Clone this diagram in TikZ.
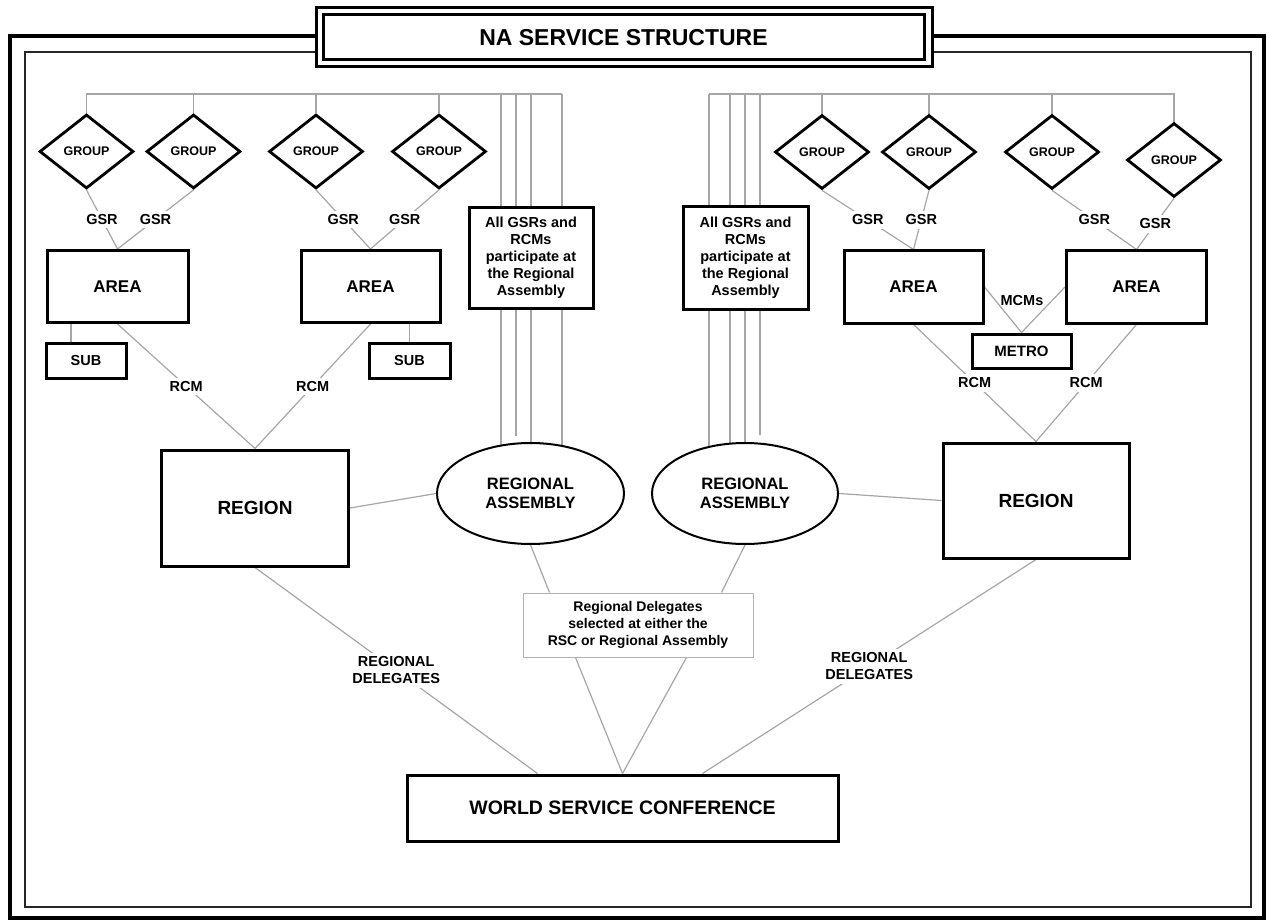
\documentclass[tikz,border=0pt]{standalone}
\usepackage{fontspec}
\setmainfont{Liberation Sans}
\usetikzlibrary{shapes.geometric,backgrounds,calc}
\begin{document}
\begin{tikzpicture}[x=1pt,y=-1pt,
  conn/.style={draw=black!35,line width=1.2pt},
  bx/.style={draw=black,line width=3pt,fill=white,inner sep=0pt,align=center},
  areabox/.style={bx,minimum width=140pt,minimum height=72pt,font=\bfseries\fontsize{17}{20}\selectfont},
  subbox/.style={bx,minimum width=80pt,minimum height=35pt,font=\bfseries\fontsize{14.5}{17}\selectfont},
  regbox/.style={bx,minimum width=187pt,minimum height=116pt,font=\bfseries\fontsize{19}{22}\selectfont},
  gsrbox/.style={bx,minimum width=124pt,minimum height=101pt,font=\bfseries\fontsize{14.5}{17}\selectfont},
  grp/.style={diamond,draw=black,line width=2.8pt,fill=white,minimum width=94pt,minimum height=74pt,inner sep=0pt,aspect=1.27,font=\bfseries\fontsize{12.5}{14}\selectfont},
  assembly/.style={ellipse,draw=black,line width=2pt,fill=white,minimum width=187pt,minimum height=101pt,inner sep=0pt,align=center,font=\bfseries\fontsize{16.5}{19}\selectfont},
  lbl/.style={fill=white,inner sep=3.5pt,align=center,font=\bfseries\fontsize{14.5}{17}\selectfont},
  delbox/.style={draw=black!30,line width=1pt,fill=white,minimum width=230pt,minimum height=64pt,inner sep=0pt,align=center,font=\bfseries\fontsize{14}{17}\selectfont}
  ]
\useasboundingbox (0,0) rectangle (1267,920);
% frame
\draw[line width=4pt] (10,36) rectangle (1264,918);
\draw[line width=2.5pt,black!85] (25,52) rectangle (1251,907);
% title
\draw[line width=3pt,fill=white] (316,8) rectangle (932,67);
\node[draw=black,line width=3pt,minimum width=601pt,minimum height=45pt,inner sep=0pt,font=\bfseries\fontsize{23}{26}\selectfont] (title) at (623.5,37.5) {NA SERVICE STRUCTURE};

% groups left
\node[grp] (d1) at (86.5,151.5) {GROUP};
\node[grp] (d2) at (193.5,151.5) {GROUP};
\node[grp] (d3) at (316,151.5) {GROUP};
\node[grp] (d4) at (439,151.5) {GROUP};
% groups right
\node[grp] (r1) at (822,152) {GROUP};
\node[grp] (r2) at (929,152) {GROUP};
\node[grp] (r3) at (1052,152) {GROUP};
\node[grp] (r4) at (1174,160) {GROUP};

% areas
\node[areabox,minimum width=141pt] (a1) at (117.5,286.5) {AREA};
\node[areabox,minimum width=139pt] (a2) at (370.5,286.5) {AREA};
\node[areabox,minimum width=139pt] (a3) at (913.5,287) {AREA};
\node[areabox,minimum width=140pt] (a4) at (1136.5,287) {AREA};

% subs and metro
\node[subbox] (s1) at (86,360.5) {SUB};
\node[subbox,minimum width=81pt] (s2) at (409.5,360.5) {SUB};
\node[subbox,minimum width=99pt,minimum height=34pt,font=\bfseries\fontsize{15}{17}\selectfont] (metro) at (1021.5,351) {METRO};
\node[lbl,fill=none] (mcm) at (1022,301) {MCMs};

% GSR boxes
\node[gsrbox] (gL) at (531,258) {All GSRs and\\RCMs\\participate at\\the Regional\\Assembly};
\node[gsrbox,minimum width=125pt,minimum height=102pt] (gR) at (745.5,258) {All GSRs and\\RCMs\\participate at\\the Regional\\Assembly};

% regions
\node[regbox] (rL) at (255,508) {REGION};
\node[regbox,minimum width=186pt,minimum height=115pt] (rR) at (1036,500.5) {REGION};

% assemblies
\node[assembly] (raL) at (530.5,493.5) {REGIONAL\\ASSEMBLY};
\node[assembly,minimum width=186pt] (raR) at (745,493.5) {REGIONAL\\ASSEMBLY};

% delegates box
\node[delbox] (del) at (638,625) {Regional Delegates\\selected at either the\\RSC or Regional Assembly};

% WSC
\node[bx,minimum width=431pt,minimum height=66pt,font=\bfseries\fontsize{19.5}{22}\selectfont] (wsc) at (622.5,808) {WORLD SERVICE CONFERENCE};

% bus coordinates
\coordinate (tl1) at (501,94);
\coordinate (tl2) at (516,94);
\coordinate (tl3) at (531,94);
\coordinate (tl4) at (562,94);
\coordinate (el2) at (516,436);
\coordinate (tr1) at (709,94);
\coordinate (tr2) at (730,94);
\coordinate (tr3) at (745,94);
\coordinate (tr4) at (760,94);
\coordinate (er4) at (760,435);

\begin{scope}[on background layer]
% left bus
\draw[conn] (d1.north) |- (tl4);
\draw[conn] (d2.north) -- (d2.north |- tl4);
\draw[conn] (d3.north) -- (d3.north |- tl4);
\draw[conn] (d4.north) -- (d4.north |- tl4);
\draw[conn] (tl1) -- (tl1 |- raL.center);
\draw[conn] (tl2) -- (el2);
\draw[conn] (tl3) -- (tl3 |- raL.center);
\draw[conn] (tl4) -- (tl4 |- raL.center);
% right bus
\draw[conn] (tr1) -| (r4.north);
\draw[conn] (r1.north) -- (r1.north |- tr1);
\draw[conn] (r2.north) -- (r2.north |- tr1);
\draw[conn] (r3.north) -- (r3.north |- tr1);
\draw[conn] (tr1) -- (tr1 |- raR.center);
\draw[conn] (tr2) -- (tr2 |- raR.center);
\draw[conn] (tr3) -- (tr3 |- raR.center);
\draw[conn] (tr4) -- (er4);
% GSR links
\draw[conn] (d1.south) -- node[lbl]{GSR} (a1.north);
\draw[conn] (d2.south) -- node[lbl]{GSR} (a1.north);
\draw[conn] (d3.south) -- node[lbl]{GSR} (a2.north);
\draw[conn] (d4.south) -- node[lbl]{GSR} (a2.north);
\draw[conn] (r1.south) -- node[lbl]{GSR} (a3.north);
\draw[conn] (r2.south) -- node[lbl]{GSR} (a3.north);
\draw[conn] (r3.south) -- node[lbl]{GSR} (a4.north);
\draw[conn] (r4.south) -- node[lbl]{GSR} (a4.north);
% subs
\draw[conn] ([xshift=-15pt]s1.north) -- ([xshift=-15pt]s1.north |- a1.south);
\draw[conn] (s2.north) -- (s2.north |- a2.south);
% MCMs
\draw[conn] (a3.east) -- (metro.north);
\draw[conn] (a4.west) -- (metro.north);
% RCM links
\draw[conn] (a1.south) -- node[lbl]{RCM} (rL.north);
\draw[conn] (a2.south) -- node[lbl]{RCM} (rL.north);
\draw[conn] (a3.south) -- node[lbl]{RCM} (rR.north);
\draw[conn] (a4.south) -- node[lbl]{RCM} (rR.north);
% region - assembly
\draw[conn] (rL.east) -- (raL.west);
\draw[conn] (raR.east) -- (rR.west);
% assemblies - delegates
\draw[conn] (raL.south) -- ([xshift=27pt]del.north west);
\draw[conn] (raR.south) -- ([xshift=-32pt]del.north east);
% delegates - WSC
\draw[conn] ([xshift=53pt]del.south west) -- (wsc.north);
\draw[conn] ([xshift=-67pt]del.south east) -- (wsc.north);
% regional delegates
\draw[conn] (rL.south) -- node[lbl]{REGIONAL\\DELEGATES} ([xshift=132pt]wsc.north west);
\draw[conn] (rR.south) -- node[lbl]{REGIONAL\\DELEGATES} ([xshift=-137pt]wsc.north east);
\end{scope}
\end{tikzpicture}
\end{document}
